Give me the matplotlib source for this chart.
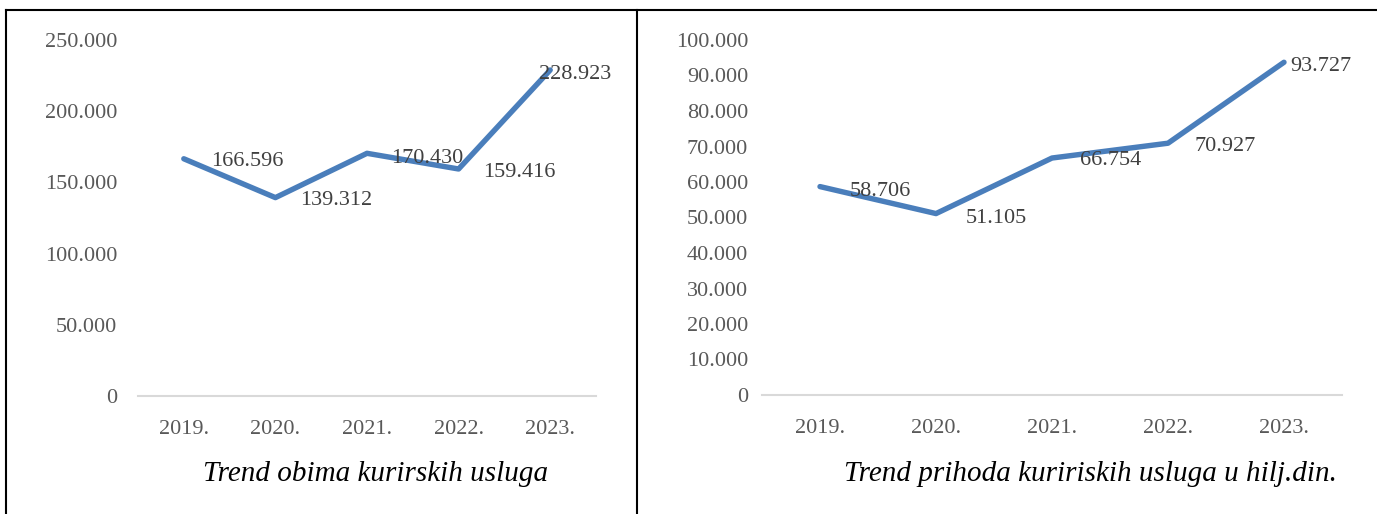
import matplotlib.pyplot as plt
from matplotlib.lines import Line2D
from matplotlib.ticker import FuncFormatter

years = ["2019.", "2020.", "2021.", "2022.", "2023."]
volume = [166596, 139312, 170430, 159416, 228923]
revenue = [58706, 51105, 66754, 70927, 93727]

title_left = "Trend obima kurirskih usluga"
title_right = "Trend prihoda kuririskih usluga u hilj.din."

# label offsets in pixels (dx, dy)
off_left = [(27, -3), (25, -3), (24, -5), (25, -4), (-11, -4)]
off_right = [(30, -5), (30, -5), (28, -2), (27, -3), (6, -4)]

W, H = 1377, 514
fig = plt.figure(figsize=(W / 100, H / 100), dpi=100)
plt.rcParams['font.family'] = 'Liberation Serif'

line_col = '#4A7EBB'
tick_col = '#595959'


def fmt(v, pos):
    if v == 0:
        return "0"
    return f"{int(v):,}".replace(",", ".")


def make_panel(rect, values, ymax, ystep, offs, ypad):
    ax = fig.add_axes(rect)
    x = range(len(years))
    ax.plot(x, values, color=line_col, lw=3.9, solid_capstyle='round')
    for i, v in enumerate(values):
        ax.annotate(fmt(v, None), (i, v), xytext=offs[i], textcoords='offset pixels',
                    ha='left', va='center', fontsize=16, color='#404040')
    ax.set_xlim(-0.5, len(years) - 0.5)
    ax.set_ylim(0, ymax)
    ax.set_yticks(range(0, ymax + 1, ystep))
    ax.yaxis.set_major_formatter(FuncFormatter(fmt))
    ax.set_xticks(list(x))
    ax.set_xticklabels(years)
    for s in ['top', 'right', 'left']:
        ax.spines[s].set_visible(False)
    ax.spines['bottom'].set_color('#D9D9D9')
    ax.spines['bottom'].set_linewidth(1.5)
    ax.tick_params(axis='both', length=0, labelsize=16, labelcolor=tick_col)
    ax.tick_params(axis='y', pad=ypad)
    ax.tick_params(axis='x', pad=17.5)
    return ax


make_panel([138 / W, 1 - 396 / H, 458 / W, 356 / H], volume, 250000, 50000, off_left, 15)
make_panel([762 / W, 1 - 395 / H, 580 / W, 355 / H], revenue, 100000, 10000, off_right, 10)

fig.text(376 / W, 1 - 474 / H, title_left, ha='center', va='center',
         fontsize=21, style='italic', color='black')
fig.text(1090 / W, 1 - 474 / H, title_right, ha='center', va='center',
         fontsize=21, style='italic', color='black')

# frame lines around the two panels
fig.add_artist(Line2D([6 / W, 1], [1 - 10 / H, 1 - 10 / H], color='black', lw=1.5))
fig.add_artist(Line2D([6 / W, 6 / W], [0, 1 - 10 / H], color='black', lw=1.5))
fig.add_artist(Line2D([637 / W, 637 / W], [0, 1 - 10 / H], color='black', lw=1.5))

fig.savefig('out.png', dpi=100)
